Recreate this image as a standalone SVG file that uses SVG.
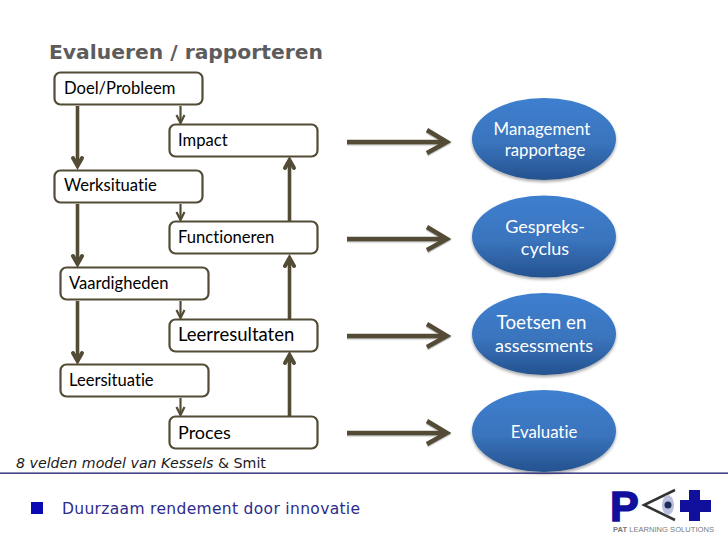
<svg xmlns="http://www.w3.org/2000/svg" width="728" height="546" viewBox="0 0 728 546">
<style>
text{font-variant-ligatures:none}
.box{fill:#fff;stroke:#524b35;stroke-width:2.2}
.lbl{font-family:"Lato","Liberation Sans",sans-serif;font-size:16.600px;fill:#000}
.big{font-size:18.500px}
.el{fill:url(#blue);filter:url(#sh)}
.wt{font-family:"Lato","Liberation Sans",sans-serif;fill:#fff;text-anchor:middle}
.s1{font-size:16.800px}
.s2{font-size:18px}
.thick{stroke:#524b35;stroke-width:3.6;fill:none}
.thin{stroke:#524b35;stroke-width:2.200;fill:none}
.wide{stroke:#524b35;stroke-width:4.400;fill:none;filter:url(#ls)}
.head{stroke:#524b35;stroke-width:4;fill:none;stroke-linecap:round}
</style>
<defs>
<linearGradient id="blue" x1="0" y1="0" x2="0" y2="1">
<stop offset="0" stop-color="#3e7fcf"/><stop offset="0.55" stop-color="#3a74bd"/><stop offset="1" stop-color="#24528f"/>
</linearGradient>
<filter id="sh" x="-10%" y="-10%" width="120%" height="125%"><feDropShadow dx="0" dy="2" stdDeviation="1.5" flood-color="#000" flood-opacity="0.35"/></filter>
<filter id="ls" x="-5%" y="-30%" width="110%" height="170%"><feDropShadow dx="0" dy="1.200" stdDeviation="0.7" flood-color="#000" flood-opacity="0.3"/></filter>
</defs>
<rect width="728" height="546" fill="#fff"/>
<text x="49" y="59" font-family="DejaVu Sans,sans-serif" font-weight="700" font-size="20.300px" fill="#5c5c5c">Evalueren / rapporteren</text>
<g id="connectors">
<path class="thick" d="M77.500 106V166"/><path class="head" d="M73 158L77.500 166L82 158"/>
<path class="thick" d="M77.500 204V264"/><path class="head" d="M73 256L77.500 264L82 256"/>
<path class="thick" d="M77.500 301V361"/><path class="head" d="M73 353L77.500 361L82 353"/>
<path class="thin" d="M180.500 106V123"/><path class="thin" d="M176.500 115L180.500 123L184.500 115"/>
<path class="thin" d="M180.500 204V220"/><path class="thin" d="M176.500 212L180.500 220L184.500 212"/>
<path class="thin" d="M180.500 301V318"/><path class="thin" d="M176.500 310L180.500 318L184.500 310"/>
<path class="thin" d="M180.500 398V415"/><path class="thin" d="M176.500 407L180.500 415L184.500 407"/>
<path class="thick" d="M289.500 222V160"/><path class="head" d="M285 168L289.500 160L294 168"/>
<path class="thick" d="M289.500 319V258"/><path class="head" d="M285 266L289.500 258L294 266"/>
<path class="thick" d="M289.500 416V355"/><path class="head" d="M285 363L289.500 355L294 363"/>
<path class="wide" d="M347 142H447M427 130L447 142L427 153"/>
<path class="wide" d="M347 239H447M427 227L447 239L427 250"/>
<path class="wide" d="M347 336H447M427 324L447 336L427 347"/>
<path class="wide" d="M347 433H447M427 421L447 433L427 444"/>
</g>
<g id="n1"><rect class="box" x="54.500" y="72.500" width="148" height="32" rx="6"/><text class="lbl" x="64" y="94">Doel/Probleem</text></g>
<g id="n2"><rect class="box" x="169.500" y="124.500" width="148" height="32" rx="6"/><text class="lbl" x="178" y="146">Impact</text></g>
<g id="n3"><rect class="box" x="54.500" y="170.500" width="148" height="32" rx="6"/><text class="lbl" x="64" y="191">Werksituatie</text></g>
<g id="n4"><rect class="box" x="169.500" y="221.500" width="148" height="32" rx="6"/><text class="lbl" x="178" y="243">Functioneren</text></g>
<g id="n5"><rect class="box" x="60.500" y="267.500" width="148" height="32" rx="6"/><text class="lbl" x="69" y="289">Vaardigheden</text></g>
<g id="n6"><rect class="box" x="169.500" y="319.500" width="148" height="32" rx="6"/><text class="lbl big" x="178" y="341">Leerresultaten</text></g>
<g id="n7"><rect class="box" x="60.500" y="364.500" width="148" height="32" rx="6"/><text class="lbl" x="69" y="386">Leersituatie</text></g>
<g id="n8"><rect class="box" x="169.500" y="416.500" width="148" height="32" rx="6"/><text class="lbl" style="font-size:18px" x="178" y="439">Proces</text></g>
<g id="e1"><ellipse class="el" cx="544" cy="139" rx="72" ry="41"/><text class="wt s1" x="542" y="135">Management</text><text class="wt s1" x="545" y="156">rapportage</text></g>
<g id="e2"><ellipse class="el" cx="544" cy="236.500" rx="72" ry="41"/><text class="wt s2" x="545" y="233">Gespreks-</text><text class="wt s2" x="545" y="255">cyclus</text></g>
<g id="e3"><ellipse class="el" cx="544" cy="334" rx="72" ry="41"/><text class="wt s2" x="541.500" y="329" style="font-size:18.800px">Toetsen en</text><text class="wt s2" x="544" y="352">assessments</text></g>
<g id="e4"><ellipse class="el" cx="544" cy="431" rx="72" ry="41"/><text class="wt s1" x="544" y="438">Evaluatie</text></g>
<text x="16" y="468" font-family="DejaVu Sans,sans-serif" font-size="14.200px" fill="#1a1a1a"><tspan font-style="italic">8 velden model van Kessels</tspan> &amp; Smit</text>
<rect x="0" y="472.500" width="728" height="1.300" fill="#1b1b6b"/>
<rect x="31" y="502" width="12" height="12" fill="#0a0ab4"/>
<text x="62" y="514" font-family="DejaVu Sans,sans-serif" font-size="15.500px" fill="#2c2c8c" letter-spacing="0.330">Duurzaam rendement door innovatie</text>
<g id="logo">
<text x="610" y="521" font-family="Liberation Sans,sans-serif" font-weight="700" font-size="43px" fill="#10109c" stroke="#10109c" stroke-width="1.500">P</text>
<path d="M675 490L644 505L675 520" fill="none" stroke="#333" stroke-width="2.500"/>
<ellipse cx="668" cy="505" rx="6" ry="10" fill="#b9bfdc"/>
<circle cx="668" cy="505" r="3.500" fill="#1c2a5c"/>
<rect x="680" y="500" width="31" height="12" fill="#10109c"/>
<rect x="689" y="490" width="11" height="31" fill="#10109c"/>
<text x="613" y="532" font-family="Liberation Sans,sans-serif" font-size="7.600px" fill="#7a7a7a"><tspan font-weight="700">PAT</tspan> LEARNING SOLUTIONS</text>
</g>
</svg>
